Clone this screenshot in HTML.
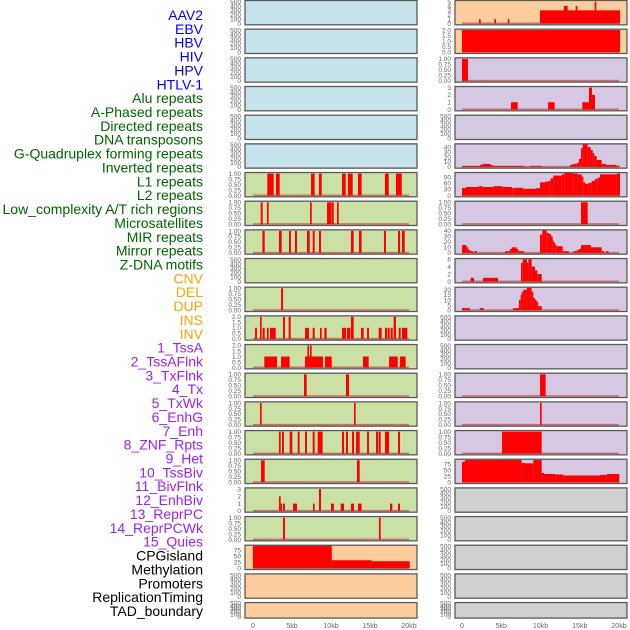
<!DOCTYPE html>
<html><head><meta charset="utf-8"><style>
body{margin:0;background:#fff;}
svg{display:block;font-family:"Liberation Sans",sans-serif;}
</style></head><body>
<svg id="chart" width="630" height="630" viewBox="0 0 630 630"></svg>
<script>
// ---- data: [startKb, endKb, value] segments ----
const labelNames = ["AAV2","EBV","HBV","HIV","HPV","HTLV-1","Alu repeats","A-Phased repeats","Directed repeats","DNA transposons","G-Quadruplex forming repeats","Inverted repeats","L1 repeats","L2 repeats","Low_complexity A/T rich regions","Microsatellites","MIR repeats","Mirror repeats","Z-DNA motifs","CNV","DEL","DUP","INS","INV","1_TssA","2_TssAFlnk","3_TxFlnk","4_Tx","5_TxWk","6_EnhG","7_Enh","8_ZNF_Rpts","9_Het","10_TssBiv","11_BivFlnk","12_EnhBiv","13_ReprPC","14_ReprPCWk","15_Quies","CPGisland","Methylation","Promoters","ReplicationTiming","TAD_boundary"];
const labelColors = ["#0000ff","#0000ff","#0000ff","#0000ff","#0000ff","#0000ff","#006400","#006400","#006400","#006400","#006400","#006400","#006400","#006400","#006400","#006400","#006400","#006400","#006400","#ffa500","#ffa500","#ffa500","#ffa500","#ffa500","#a020f0","#a020f0","#a020f0","#a020f0","#a020f0","#a020f0","#a020f0","#a020f0","#a020f0","#a020f0","#a020f0","#a020f0","#a020f0","#a020f0","#a020f0","#000","#000","#000","#000","#000"];
const xTickValues = [0,5,10,15,20];
const xTickLabels = ["0","5kb","10kb","15kb","20kb"];
const ticksEmpty = [0,100,200,300,400,500];
const ticksUnit = [0,0.25,0.5,0.75,1];
const ticksTwo = [0,0.5,1,1.5,2];

const leftRow7 = [[1.83,2.65,1],[2.95,3.42,1],[7.44,7.9,1],[8.46,8.81,1],[11.41,11.88,1],[12.18,12.78,1],[13.46,13.93,1],[16.92,17.4,1],[18.33,19.07,1]];
const leftRow8 = [[0.99,1.24,1],[1.79,2.01,1],[7.31,7.53,1],[9.49,10.0,1],[10.04,10.35,1],[10.77,10.99,1]];
const leftRow9 = [[1.2,1.5,1],[3.33,3.68,1],[4.62,4.87,1],[5.38,5.64,1],[6.92,7.27,1],[7.65,7.91,1],[8.46,8.72,1],[12.56,12.91,1],[13.59,13.93,1],[16.79,17.05,1],[18.59,18.85,1],[19.1,19.45,1]];
const leftRow11 = [[3.6,3.85,1]];
const leftRow12 = [[0.26,0.51,1],[0.9,1.11,2],[1.24,1.5,1],[1.79,2.01,1],[2.18,2.91,1],[3.85,4.1,2],[4.57,4.83,2],[6.67,7.18,1],[7.65,7.91,1],[8.59,8.8,1],[9.15,9.44,1],[11.41,11.92,1],[12.05,12.48,1],[12.56,12.91,2],[13.85,14.19,1],[14.62,14.87,1],[16.11,16.5,1],[16.92,17.18,1],[17.26,17.52,1],[17.65,17.91,1],[18.03,18.33,2],[18.68,18.93,1],[19.1,19.79,1]];
const leftRow13 = [[1.45,3.08,1],[3.59,4.7,1],[6.67,8.97,1],[6.97,7.18,2],[7.31,7.52,2],[9.23,10.09,1],[14.1,14.83,1],[17.44,18.55,1],[18.85,19.57,1]];
const leftRow14 = [[6.54,6.88,1],[11.92,12.31,1]];
const leftRow15 = [[0.9,1.11,1],[12.95,13.16,1]];
const leftRow16 = [[3.33,3.55,1],[3.72,3.97,1],[4.7,5.04,1],[5.73,5.98,1],[6.67,6.92,1],[7.65,7.91,1],[8.29,8.93,1],[11.41,11.67,1],[11.92,12.18,1],[12.69,12.95,1],[13.21,13.68,1],[14.62,14.87,1],[15.77,16.03,1],[16.11,16.37,1],[16.92,17.44,1],[18.59,18.85,1]];
const leftRow17 = [[1.03,1.5,1],[13.33,13.68,1]];
const leftRow18 = [[3.33,3.55,2],[3.55,3.72,1],[3.85,4.1,1],[5.13,5.64,1],[7.69,7.91,1],[8.46,8.72,3],[10.0,10.38,1],[11.24,11.67,1],[12.56,12.95,1],[13.46,13.93,1],[17.56,17.86,1],[18.59,18.85,1]];
const leftRow19 = [[3.85,4.1,1],[16.15,16.37,1]];
const leftRow20 = [[0,10.1,95],[10.1,15.2,33],[15.2,20.1,29]];

const rightRow1 = [[2.17,2.38,1],[4.12,4.33,1],[5.82,6.03,1],[9.94,20.13,3],[12.99,13.46,4],[14.48,14.69,4],[16.9,17.11,5]];
const rightRow2 = [[0,20.13,2]];
const rightRow3 = [[0,0.76,1]];
const rightRow4 = [[6.24,7.09,1],[10.96,11.8,1],[15.33,16.94,1],[16.18,16.56,3],[16.56,16.94,2]];
const rightRow6 = [[0,2.29,2],[2.29,2.59,4],[2.59,3.57,6],[3.57,3.91,4],[3.91,7.9,2],[8.66,10.15,2],[13.76,14.1,4],[14.1,14.61,6],[14.61,14.9,8],[14.9,15.16,16],[15.16,15.37,38],[15.37,16.01,47],[16.01,16.39,40],[16.39,16.65,34],[16.65,16.86,28],[16.86,17.16,22],[17.16,17.79,14],[17.79,18.34,6],[18.34,19.7,4],[19.7,20.13,2]];
const rightRow7 = [[0,0.51,37],[0.51,2.17,42],[2.17,2.59,46],[2.59,4.08,42],[4.08,5.14,46],[5.14,6.41,42],[6.41,6.67,36],[6.67,7.81,38],[7.81,9.43,33],[9.43,9.94,36],[9.94,10.57,65],[10.57,11.0,68],[11.0,11.3,72],[11.3,11.63,85],[11.63,12.7,98],[12.7,13.04,104],[13.04,14.18,112],[14.18,14.73,108],[14.73,15.24,104],[15.24,15.46,93],[15.46,15.67,65],[15.67,16.09,58],[16.09,16.52,62],[16.52,16.94,72],[16.94,17.28,82],[17.28,17.58,88],[17.58,19.7,104],[19.7,20.13,108]];
const rightRow8 = [[15.16,16.01,1]];
const rightRow9 = [[0,0.59,14],[0.59,0.81,10],[0.81,1.1,5],[1.1,1.44,3],[1.57,1.91,3],[5.48,6.11,3],[6.11,6.33,7],[6.33,6.96,10],[6.96,7.18,7],[7.18,7.9,3],[9.94,10.23,33],[10.23,10.79,42],[10.79,11.08,36],[11.08,11.34,34],[11.34,11.55,30],[11.55,11.72,22],[11.72,11.89,18],[11.89,12.06,14],[12.06,12.82,12],[12.82,13.63,3],[14.18,14.61,3],[14.61,14.9,5],[14.9,15.16,7],[15.16,16.43,14],[16.43,17.79,10],[17.79,18.13,3],[18.34,18.68,3]];
const rightRow10 = [[1.1,1.53,1],[2.68,4.59,1],[7.52,7.73,5],[7.73,8.28,6],[8.28,8.45,5],[8.45,8.87,6],[8.87,9.3,4],[9.3,9.6,3],[9.6,10.15,2]];
const rightRow11 = [[0,1.02,2],[2.25,2.76,2],[6.5,7.26,2],[7.26,7.47,10],[7.47,7.6,15],[7.6,7.81,18],[7.81,8.24,20],[8.24,8.87,22],[8.87,9.09,18],[9.09,9.3,12],[9.3,9.51,10],[9.51,9.72,8],[9.72,10.15,4]];
const rightRow14 = [[9.94,10.66,1]];
const rightRow15 = [[9.94,10.15,1]];
const rightRow16 = [[5.1,10.15,1]];
const rightRow17 = [[0,0.38,84],[0.38,7.6,92],[7.6,8.03,79],[8.03,9.09,78],[9.09,10.15,92],[10.15,10.45,38],[10.45,11.85,34],[11.85,12.91,32],[12.91,17.58,28],[17.58,18.43,30],[18.43,20.04,34]];

// ---- panel specs ----
const BLUE="#c7e3eb", GREEN="#c9e1a5", PEACH="#fecd9d", LAV="#d6c7e3", GRAY="#d0d0d0";
const leftPanels = [
 [BLUE,null,ticksEmpty,525],[BLUE,null,ticksEmpty,525],[BLUE,null,ticksEmpty,525],[BLUE,null,ticksEmpty,525],[BLUE,null,ticksEmpty,525],[BLUE,null,ticksEmpty,525],
 [GREEN,leftRow7,ticksUnit,1.05],[GREEN,leftRow8,ticksUnit,1.05],[GREEN,leftRow9,ticksUnit,1.05],[GREEN,null,ticksEmpty,525],[GREEN,leftRow11,ticksUnit,1.05],
 [GREEN,leftRow12,ticksTwo,2.08],[GREEN,leftRow13,ticksTwo,2.08],[GREEN,leftRow14,ticksUnit,1.05],[GREEN,leftRow15,ticksUnit,1.05],[GREEN,leftRow16,ticksUnit,1.05],[GREEN,leftRow17,ticksUnit,1.05],
 [GREEN,leftRow18,[0,1,2,3],3.15],[GREEN,leftRow19,ticksUnit,1.05],
 [PEACH,leftRow20,[0,25,50,75],95],[PEACH,null,ticksEmpty,525],[PEACH,null,ticksEmpty,525]
];
const rightPanels = [
 [PEACH,rightRow1,[0,1,2,3,4,5],5.25],[PEACH,rightRow2,ticksTwo,2.08],
 [LAV,rightRow3,ticksUnit,1.05],[LAV,rightRow4,[0,1,2,3],3.15],[LAV,null,ticksEmpty,525],
 [LAV,rightRow6,[0,10,20,30,40],46.6],[LAV,rightRow7,[0,30,60,90],113],[LAV,rightRow8,ticksUnit,1.05],
 [LAV,rightRow9,[0,10,20,30,40],41.5],[LAV,rightRow10,[0,2,4,6],6.2],[LAV,rightRow11,[0,5,10,15,20],22.6],
 [LAV,null,ticksEmpty,525],[LAV,null,ticksEmpty,525],[LAV,rightRow14,ticksUnit,1.05],[LAV,rightRow15,ticksUnit,1.05],[LAV,rightRow16,ticksUnit,1.05],
 [LAV,rightRow17,[0,25,50,75],95],
 [GRAY,null,ticksEmpty,525],[GRAY,null,ticksEmpty,525],[GRAY,null,ticksEmpty,525],[GRAY,null,ticksEmpty,525],[GRAY,null,ticksEmpty,525]
];

const NS="http://www.w3.org/2000/svg";
const svg=document.getElementById('chart');
function mk(tag,attrs,parent){const e=document.createElementNS(NS,tag);for(const k in attrs)e.setAttribute(k,attrs[k]);(parent||svg).appendChild(e);return e;}

// labels
labelNames.forEach((name,i)=>{
  const t=mk('text',{x:203,y:15+i*13.86+5,'text-anchor':'end','font-size':14,fill:labelColors[i]});
  
  
  t.textContent=name;
});

function fmt(v,ticks){
  if(ticks===ticksUnit) return v.toFixed(2);
  if(ticks===ticksTwo) return v.toFixed(1);
  return String(v);
}

function drawColumn(panels,x0,x1,zeroX,kbPx,side){
  panels.forEach((p,k)=>{
    const [bg,data,ticks,ymax]=p;
    const top=28.67*k+0.5, h=(k===21)?15.5:24.3, bottom=top+h;
    const g=mk('g',{});
    
    
    mk('rect',{x:x0,y:top,width:x1-x0,height:h,fill:bg},g);
    const yOf=v=>bottom-1.3-(v/ymax)*(h-1.3);
    const xOf=kb=>zeroX+kb*kbPx;
    // ticks
    ticks.forEach(tv=>{
      const t=mk('text',{x:x0-4,y:yOf(tv)+2.3,'text-anchor':'end','font-size':6.5,fill:'#666'},g);
      
      
      t.textContent=fmt(tv,ticks);
    });
    if(data){
      const base=mk('rect',{x:xOf(0),y:bottom-2.3,width:xOf(20)-xOf(0),height:1.6,fill:'#c0504d',opacity:0.75},g);
      
      
      data.forEach(d=>{
        const yt=Math.max(yOf(d[2]),top);
        const r=mk('rect',{x:xOf(d[0]),y:yt,width:Math.max(xOf(d[1])-xOf(d[0]),1.2),height:bottom-1.3-yt,fill:'#ff0000'},g);
        
        
      });
    }
    mk('rect',{x:x0,y:top,width:x1-x0,height:h,fill:'none',stroke:'#5a5a5a','stroke-width':1.3},g);
  });
  xTickValues.forEach((v,i)=>{
    const t=mk('text',{x:zeroX+v*kbPx,y:628,'text-anchor':'middle','font-size':7,fill:'#666'});
    
    
    t.textContent=xTickLabels[i];
  });
}
drawColumn(leftPanels,245,417,253,7.8,'left');
drawColumn(rightPanels,455,627,462,7.85,'right');
</script>
</body></html>
